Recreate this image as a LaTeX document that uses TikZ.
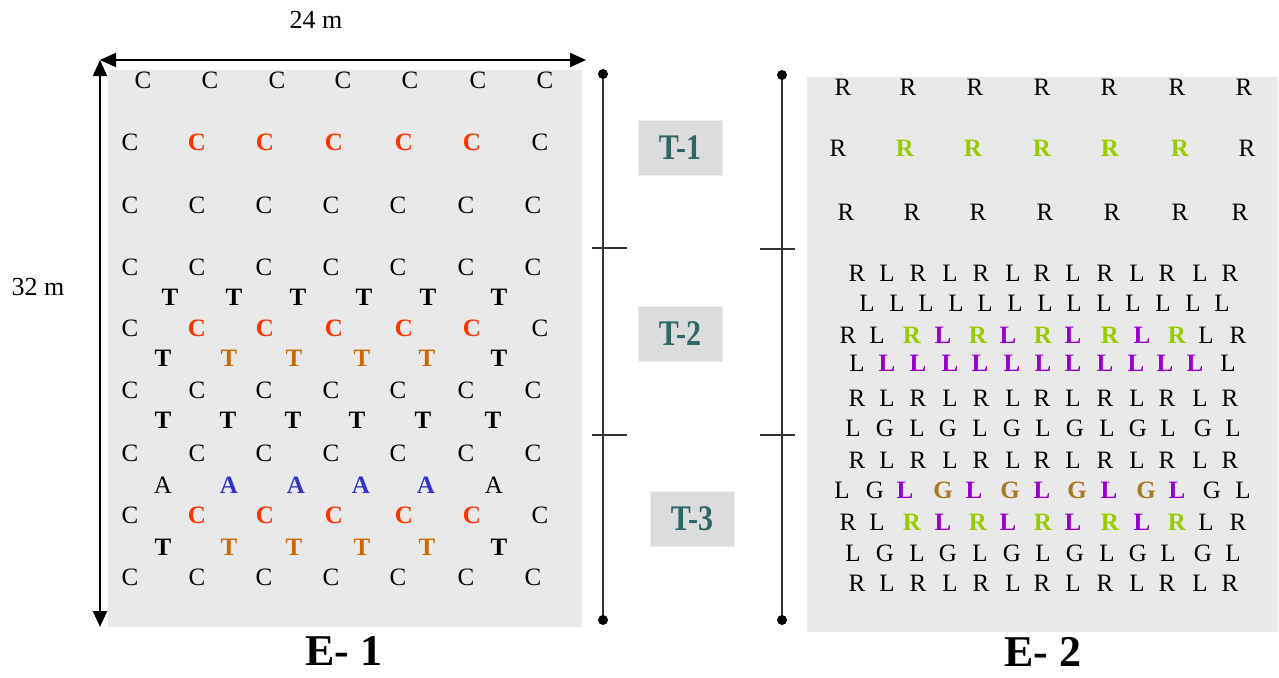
\documentclass[tikz,border=0pt]{standalone}
\usepackage{fontspec}
\setmainfont{Liberation Serif}
\usetikzlibrary{arrows.meta}
\definecolor{panel}{HTML}{E9E9E9}
\definecolor{tboxfill}{HTML}{DCDCDC}
\definecolor{tboxline}{HTML}{EEEEEE}
\definecolor{tealT}{HTML}{2E6666}
\definecolor{brk}{HTML}{333333}
\definecolor{cRd}{HTML}{FF3300}
\definecolor{cOr}{HTML}{CC6600}
\definecolor{cBl}{HTML}{3333CC}
\definecolor{cGr}{HTML}{99CC00}
\definecolor{cPu}{HTML}{9900CC}
\definecolor{cBr}{HTML}{AA7722}
\newcommand\bb[1]{\textbf{#1}}
\newcommand\glrow[3]{\foreach \x/\t/\c [count=\i] in {#3} {\node[gl,text=\c] (#1-\i) at (\x,#2) {\t};}}
\tikzset{
  gl/.style={inner sep=0pt, font=\fontsize{25}{29}\selectfont},
  dim/.style={line width=2pt, {Triangle[length=16pt,width=14pt]}-{Triangle[length=16pt,width=14pt]}},
  brline/.style={draw=brk, line width=2pt},
  tlab/.style={fill=tboxfill, draw=tboxline, line width=1pt, minimum width=84pt, minimum height=55pt, text=tealT, font=\fontsize{30}{34}\selectfont\bfseries},
  meas/.style={inner sep=0pt, font=\fontsize{26}{30}\selectfont},
  ttl/.style={inner sep=0pt, font=\fontsize{44}{50}\selectfont\bfseries},
}
\begin{document}
\begin{tikzpicture}[x=1pt,y=-1pt]
\useasboundingbox (0,0) rectangle (1279,677);
% panels
\fill[panel] (108,70) rectangle (582,627);
\fill[panel] (807,77) rectangle (1278,632);
% dimension arrows
\coordinate (corner) at (100,60);
\coordinate (hR) at (586,60);
\coordinate (vB) at (100,627);
\draw[dim] (corner) -- (hR);
\draw[dim] (corner) -- (vB);
\node[meas] (w24) at (316,20) {24 m};
\node[meas] (h32) at (38,287) {32 m};
% bracket E-1
\coordinate (b1t) at (603,74);
\coordinate (b1b) at (603,620);
\coordinate (b1aL) at (592,248); \coordinate (b1aR) at (627,248);
\coordinate (b1bL) at (592,435); \coordinate (b1bR) at (627,435);
\draw[brline] (b1t) -- (b1b);
\draw[brline] (b1aL) -- (b1aR);
\draw[brline] (b1bL) -- (b1bR);
\fill[black] (b1t) circle (5);
\fill[black] (b1b) circle (5);
% bracket E-2
\coordinate (b2t) at (782,75);
\coordinate (b2b) at (782,620);
\coordinate (b2aL) at (760,249); \coordinate (b2aR) at (795,249);
\coordinate (b2bL) at (760,435); \coordinate (b2bR) at (795,435);
\draw[brline] (b2t) -- (b2b);
\draw[brline] (b2aL) -- (b2aR);
\draw[brline] (b2bL) -- (b2bR);
\fill[black] (b2t) circle (5);
\fill[black] (b2b) circle (5);
% T labels
\node[tlab] (T1) at (680,148) {\scalebox{1}[1.2]{T-1}};
\node[tlab] (T2) at (680,334) {\scalebox{1}[1.2]{T-2}};
\node[tlab] (T3) at (692,519) {\scalebox{1}[1.2]{T-3}};
% titles
\node[ttl] (E1) at (344,651) {E- 1};
\node[ttl] (E2) at (1043,652) {E- 2};
% ---------- E-1 grid ----------
\glrow{c1}{80}{143/C/black,210/C/black,277/C/black,343/C/black,410/C/black,478/C/black,545/C/black}
\glrow{c2}{142}{130/C/black,197/\bb C/cRd,265/\bb C/cRd,334/\bb C/cRd,404/\bb C/cRd,472/\bb C/cRd,540/C/black}
\glrow{c3}{205}{130/C/black,197/C/black,264/C/black,331/C/black,398/C/black,466/C/black,533/C/black}
\glrow{c4}{267}{130/C/black,197/C/black,264/C/black,331/C/black,398/C/black,466/C/black,533/C/black}
\glrow{t1}{297}{170/\bb T/black,234/\bb T/black,298/\bb T/black,364/\bb T/black,428/\bb T/black,499/\bb T/black}
\glrow{c5}{328}{130/C/black,197/\bb C/cRd,265/\bb C/cRd,334/\bb C/cRd,404/\bb C/cRd,472/\bb C/cRd,540/C/black}
\glrow{t2}{358}{163/\bb T/black,229/\bb T/cOr,294/\bb T/cOr,362/\bb T/cOr,427/\bb T/cOr,499/\bb T/black}
\glrow{c6}{390}{130/C/black,197/C/black,264/C/black,331/C/black,398/C/black,466/C/black,533/C/black}
\glrow{t3}{420}{163/\bb T/black,228/\bb T/black,293/\bb T/black,357/\bb T/black,423/\bb T/black,493/\bb T/black}
\glrow{c7}{453}{130/C/black,197/C/black,264/C/black,331/C/black,398/C/black,466/C/black,533/C/black}
\glrow{a1}{485}{163/A/black,229/\bb A/cBl,296/\bb A/cBl,361/\bb A/cBl,426/\bb A/cBl,494/A/black}
\glrow{c8}{515}{130/C/black,197/\bb C/cRd,265/\bb C/cRd,334/\bb C/cRd,404/\bb C/cRd,472/\bb C/cRd,540/C/black}
\glrow{t4}{547}{163/\bb T/black,229/\bb T/cOr,294/\bb T/cOr,362/\bb T/cOr,427/\bb T/cOr,499/\bb T/black}
\glrow{c9}{577}{130/C/black,197/C/black,264/C/black,331/C/black,398/C/black,466/C/black,533/C/black}
% ---------- E-2 grid ----------
\glrow{r1}{87}{843/R/black,908/R/black,975/R/black,1042/R/black,1109/R/black,1177/R/black,1244/R/black}
\glrow{r2}{148}{838/R/black,905/\bb R/cGr,973/\bb R/cGr,1042/\bb R/cGr,1110/\bb R/cGr,1180/\bb R/cGr,1247/R/black}
\glrow{r3}{212}{846/R/black,912/R/black,978/R/black,1045/R/black,1112/R/black,1180/R/black,1240/R/black}
\glrow{ra}{273}{857/R/black,887/L/black,918/R/black,950/L/black,981/R/black,1013/L/black,1042/R/black,1073/L/black,1105/R/black,1137/L/black,1167/R/black,1200/L/black,1230/R/black}
\glrow{rb}{303}{867/L/black,897/L/black,926/L/black,956/L/black,985/L/black,1015/L/black,1045/L/black,1074/L/black,1104/L/black,1133/L/black,1163/L/black,1193/L/black,1222/L/black}
\glrow{rc}{335}{848/R/black,877/L/black,912/\bb R/cGr,943/\bb L/cPu,978/\bb R/cGr,1008/\bb L/cPu,1043/\bb R/cGr,1073/\bb L/cPu,1110/\bb R/cGr,1142/\bb L/cPu,1177/\bb R/cGr,1206/L/black,1238/R/black}
\glrow{rd}{363}{857/L/black,887/\bb L/cPu,918/\bb L/cPu,950/\bb L/cPu,980/\bb L/cPu,1012/\bb L/cPu,1043/\bb L/cPu,1073/\bb L/cPu,1105/\bb L/cPu,1136/\bb L/cPu,1165/\bb L/cPu,1195/\bb L/cPu,1228/L/black}
\glrow{re}{398}{857/R/black,887/L/black,918/R/black,950/L/black,981/R/black,1013/L/black,1042/R/black,1073/L/black,1105/R/black,1137/L/black,1167/R/black,1200/L/black,1230/R/black}
\glrow{rf}{428}{853/L/black,885/G/black,917/L/black,948/G/black,980/L/black,1012/G/black,1043/L/black,1075/G/black,1107/L/black,1138/G/black,1168/L/black,1203/G/black,1233/L/black}
\glrow{rg}{460}{857/R/black,887/L/black,918/R/black,950/L/black,981/R/black,1013/L/black,1042/R/black,1073/L/black,1105/R/black,1137/L/black,1167/R/black,1200/L/black,1230/R/black}
\glrow{rh}{490}{842/L/black,875/G/black,905/\bb L/cPu,943/\bb G/cBr,974/\bb L/cPu,1010/\bb G/cBr,1042/\bb L/cPu,1077/\bb G/cBr,1109/\bb L/cPu,1146/\bb G/cBr,1177/\bb L/cPu,1212/G/black,1243/L/black}
\glrow{ri}{522}{848/R/black,877/L/black,912/\bb R/cGr,943/\bb L/cPu,978/\bb R/cGr,1008/\bb L/cPu,1043/\bb R/cGr,1073/\bb L/cPu,1110/\bb R/cGr,1142/\bb L/cPu,1177/\bb R/cGr,1206/L/black,1238/R/black}
\glrow{rj}{553}{853/L/black,885/G/black,917/L/black,948/G/black,980/L/black,1012/G/black,1043/L/black,1075/G/black,1107/L/black,1138/G/black,1168/L/black,1203/G/black,1233/L/black}
\glrow{rk}{583}{857/R/black,887/L/black,918/R/black,950/L/black,981/R/black,1013/L/black,1042/R/black,1073/L/black,1105/R/black,1137/L/black,1167/R/black,1200/L/black,1230/R/black}
\end{tikzpicture}
\end{document}
